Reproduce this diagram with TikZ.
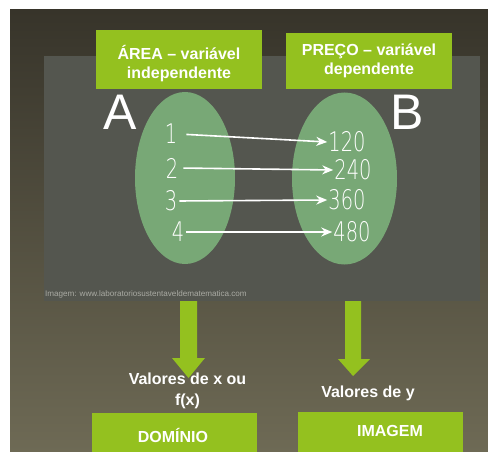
\documentclass[tikz,border=0pt]{standalone}
\usepackage{fontspec}
\setmainfont{Liberation Sans}
\newfontfamily\handfont[FakeStretch=0.72]{DejaVu Sans ExtraLight}
\usepackage{tikz}
\usetikzlibrary{arrows.meta}

\definecolor{bgtop}{HTML}{37342A}
\definecolor{bgbottom}{HTML}{6E6A55}
\definecolor{panelgray}{HTML}{54564F}
\definecolor{boxgreen}{HTML}{94C11F}
\definecolor{setgreen}{HTML}{78A876}
\definecolor{creditgray}{HTML}{A9AAA3}

\tikzset{
  greenbox/.style={fill=boxgreen, inner sep=0pt},
  boxtext/.style={text=white, font=\bfseries\fontsize{16}{19}\selectfont, align=center, inner sep=0pt},
  valuetext/.style={text=white, font=\bfseries\fontsize{16}{21}\selectfont, align=center, inner sep=0pt},
  setname/.style={text=white, font=\fontsize{50}{50}\selectfont, inner sep=0pt},
  digit/.style={text=white, font=\handfont\fontsize{27}{27}\selectfont, inner sep=1pt},
}

\begin{document}
\begin{tikzpicture}[x=1pt, y=-1pt]
% Sizes of the two sets
\pgfmathsetmacro{\rxA}{50}
\pgfmathsetmacro{\rxB}{52.5}
\pgfmathsetmacro{\ry}{86}

% Background and picture panel
\useasboundingbox (0,0) rectangle (488,452);
\shade[top color=bgtop, middle color=bgtop, bottom color=bgbottom] (10,10) rectangle (488,452);
\fill[panelgray] (44,56) rectangle (480,301);
\node[text=creditgray, font=\fontsize{8.1}{9}\selectfont, anchor=west, inner sep=0pt] (credit) at (45,294) {Imagem: www.laboratoriosustentaveldematematica.com};

% Titles of the sets
\node[greenbox, minimum width=166, minimum height=59] (areabox) at (179,59.5) {};
\node[boxtext] (areatext) at ([yshift=-4pt]areabox.center) {ÁREA – variável\\independente};
\node[greenbox, minimum width=166, minimum height=56] (precobox) at (369,61) {};
\node[boxtext] (precotext) at ([yshift=0pt]precobox.center) {PREÇO – variável\\dependente};

% Sets A and B
\fill[setgreen] (185,178) ellipse ({\rxA} and {\ry});
\fill[setgreen] (344.5,178.5) ellipse ({\rxB} and {\ry});
\node[setname] (setA) at (120,112) {A};
\node[setname] (setB) at (407.5,112) {B};

% Elements
\node[digit] (a1) at (171,134) {1};
\node[digit] (a2) at (172,168) {2};
\node[digit] (a3) at (171,201) {3};
\node[digit] (a4) at (178,232) {4};
\node[digit] (b1) at (347,142) {120};
\node[digit] (b2) at (353,170) {240};
\node[digit] (b3) at (347,200) {360};
\node[digit] (b4) at (352,232) {480};

% Draw the mapping
\draw[-{Stealth[length=11pt, width=9pt]}, white, line width=1.6pt, shorten <=8pt] (a1.east) -- (b1.west);
\draw[-{Stealth[length=11pt, width=9pt]}, white, line width=1.6pt, shorten <=4pt] (a2.east) -- (b2.west);
\draw[-{Stealth[length=11pt, width=9pt]}, white, line width=1.6pt, shorten <=1pt] (a3.east) -- (b3.west);
\draw[-{Stealth[length=11pt, width=9pt]}, white, line width=1.6pt, shorten <=1pt] (a4.east) -- (b4.west);

% Big arrows down
\fill[boxgreen] (180,301) -- (197,301) -- (197,358) -- (205,358) -- (188.5,378) -- (172,358) -- (180,358) -- cycle;
\fill[boxgreen] (345,301) -- (361,301) -- (361,359) -- (370,359) -- (353,376) -- (338,359) -- (345,359) -- cycle;

% What each side holds
\node[valuetext] (xvalues) at (187.5,391) {Valores de x ou\\f(x)};
\node[valuetext] (yvalues) at (368,393) {Valores de y};
\node[greenbox, minimum width=165, minimum height=46] (dombox) at (174.5,436) {};
\node[boxtext] (domtext) at (173,435) {DOMÍNIO};
\node[greenbox, minimum width=165, minimum height=46] (imgbox) at (380.5,435) {};
\node[boxtext] (imgtext) at (390,430.5) {IMAGEM};

\end{tikzpicture}
\end{document}
